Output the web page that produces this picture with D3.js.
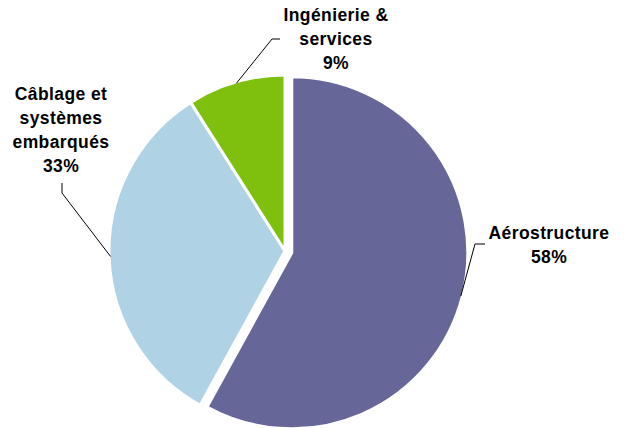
<!DOCTYPE html>
<html><head><meta charset="utf-8">
<script src="https://cdn.jsdelivr.net/npm/d3@7"></script>
<style>body{margin:0;background:#fff}svg{display:block}</style>
</head><body>
<svg id="c" width="626" height="428"></svg>
<script>
const categories = ["Aérostructure", "Câblage et systèmes embarqués", "Ingénierie & services"];
const values = [58, 33, 9];
const labelLines = [["Aérostructure", "58%"], ["Câblage et", "systèmes", "embarqués", "33%"], ["Ingénierie &", "services", "9%"]];
const colors = ["#666699", "#B0D2E5", "#7FBF0E"];

const svg = d3.select("#c");
const cx = 285, cy = 251, r = 176, explode = [7, 0, 0];
// label layout: elbow point, end point, text center x, first baseline y
const layout = [
  {elbow:[475,244], end:[485,244], tx:549, ty:239},
  {elbow:[62,193], end:[62,183], tx:61, ty:100},
  {elbow:[272,39], end:[280,39], tx:336, ty:21}
];
const pie = d3.pie().sort(null).value(d => d)(values);
const arc = d3.arc().innerRadius(0).outerRadius(r);
const g = svg.append("g");
pie.forEach((p, i) => {
  const mid = (p.startAngle + p.endAngle) / 2;
  const dx = Math.sin(mid) * explode[i], dy = -Math.cos(mid) * explode[i];
  const ox = cx + dx, oy = cy + dy;
  g.append("path").attr("d", arc(p)).attr("transform", `translate(${ox},${oy})`)
    .attr("fill", colors[i]).attr("stroke", "#fff").attr("stroke-width", 3).attr("stroke-linejoin", "round");
  const sx = ox + Math.sin(mid) * (r - 1.5), sy = oy - Math.cos(mid) * (r - 1.5);
  const L = layout[i];
  g.append("polyline").attr("points", [[sx, sy], L.elbow, L.end].map(q => q.join(",")).join(" "))
    .attr("fill", "none").attr("stroke", "#000").attr("stroke-width", 1);
  const t = g.append("text").attr("text-anchor", "middle")
    .attr("font-family", "Liberation Sans, Arial, sans-serif").attr("font-weight", "bold")
    .attr("font-size", 17.5).attr("letter-spacing", 0.4).attr("fill", "#000");
  labelLines[i].forEach((s, k) => t.append("tspan").attr("x", L.tx).attr("y", L.ty + k * 24).text(s));
});
</script>
</body></html>
